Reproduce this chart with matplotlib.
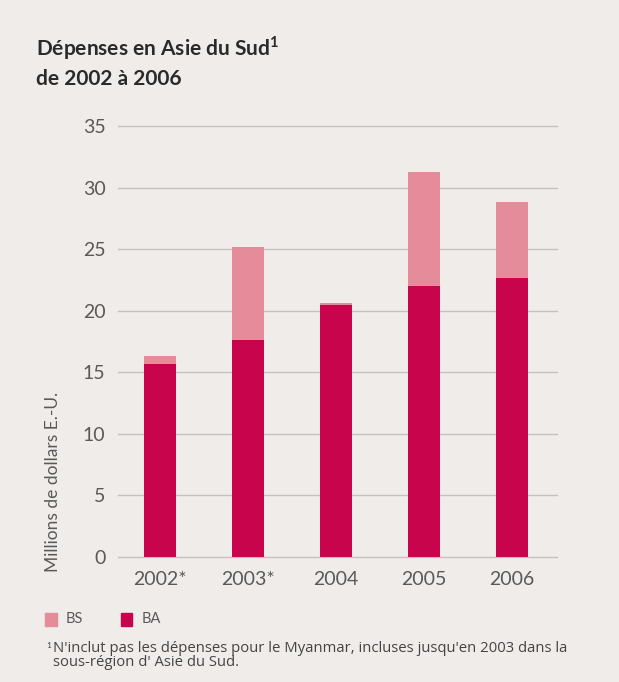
import numpy as np
from matplotlib import pyplot as plt
from matplotlib.patches import Rectangle

plt.rcParams['font.family'] = ['Lato', 'DejaVu Sans']

# données
annees = ['2002*', '2003*', '2004', '2005', '2006']
ba = [15.7, 17.6, 20.5, 22.0, 22.7]
bs = [0.6, 7.6, 0.1, 9.3, 6.1]

col_ba = '#C8044C'
col_bs = '#E58C9B'
fond = '#EFECEA'
gris = '#595959'

fig = plt.figure(figsize=(6.19, 6.82), dpi=100)
fig.patch.set_facecolor(fond)
ax = fig.add_axes([0.1906, 0.1833, 0.7094, 0.6317])
ax.set_facecolor(fond)

x = np.arange(len(annees))
w = 0.36
ax.bar(x, ba, w, color=col_ba, zorder=3)
ax.bar(x, bs, w, bottom=ba, color=col_bs, zorder=3)

ax.set_ylim(0, 35)
ax.set_xlim(-0.48, 4.51)
ax.set_yticks(np.arange(0, 36, 5))
ax.set_xticks(x)
ax.set_xticklabels(annees)
ax.tick_params(length=0, labelsize=14, colors=gris)
ax.tick_params(axis='x', pad=10)
ax.tick_params(axis='y', pad=9)
ax.yaxis.grid(True, color='#C4C1BE', lw=1, zorder=0, clip_on=False)
for s in ax.spines.values():
    s.set_visible(False)

# titre de l'axe y, calé en bas
fig.text(0.086, 0.161, 'Millions de dollars E.-U.', fontsize=12.5, color=gris,
         rotation=90, ha='center', va='bottom')

fig.text(0.058, 0.918, 'Dépenses en Asie du Sud$^{\\mathregular{1}}$', fontsize=15,
         fontweight='bold', color='#2A2A2A', va='baseline')
fig.text(0.058, 0.876, 'de 2002 à 2006', fontsize=15, fontweight='bold',
         color='#2A2A2A', va='baseline')

# légende
fig.patches.append(Rectangle((0.073, 0.082), 0.019, 0.019, color=col_bs,
                             transform=fig.transFigure, figure=fig))
fig.text(0.106, 0.092, 'BS', fontsize=10.5, color=gris, va='center')
fig.patches.append(Rectangle((0.195, 0.082), 0.019, 0.019, color=col_ba,
                             transform=fig.transFigure, figure=fig))
fig.text(0.229, 0.092, 'BA', fontsize=10.5, color=gris, va='center')

fig.text(0.074, 0.054, '1', fontsize=6, color='#444444', va='center')
fig.text(0.086, 0.049, "N'inclut pas les dépenses pour le Myanmar, incluses jusqu'en 2003 dans la",
         fontsize=10.7, color='#444444', va='center', family='Open Sans')
fig.text(0.086, 0.029, "sous-région d' Asie du Sud.", fontsize=10.7, color='#444444',
         va='center', family='Open Sans')

fig.savefig('out.png', dpi=100, facecolor=fond)
